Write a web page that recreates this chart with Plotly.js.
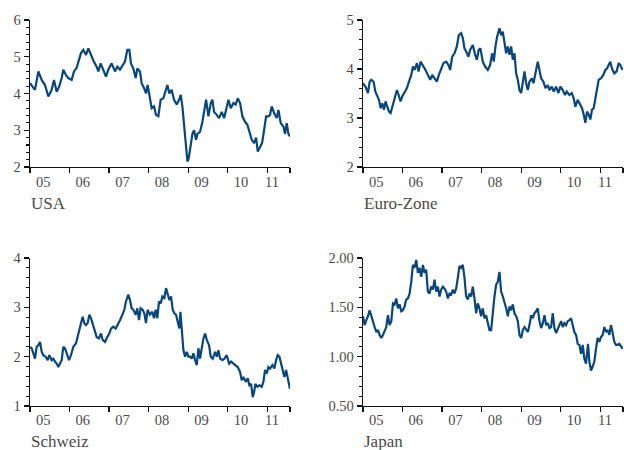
<!DOCTYPE html>
<html><head><meta charset="utf-8">
<script src="https://cdn.plot.ly/plotly-3.0.1.min.js"></script>
<style>html,body{margin:0;padding:0;background:#fff}#chart{width:624px;height:450px}</style>
</head><body><div id="chart"></div>
<script>
// ---- data ----
const yearStarts = [2005, 2006, 2007, 2008, 2009, 2010, 2011];
const tickLabels = ['05', '06', '07', '08', '09', '10', '11'];
const panelNames = ['USA', 'Euro-Zone', 'Schweiz', 'Japan'];
const seriesEnd = 2011.575;

const usaT = [2005.000,2005.084,2005.126,2005.211,2005.295,2005.379,2005.464,2005.548,2005.607,2005.675,2005.742,2005.801,2005.843,2005.911,2005.970,
2006.054,2006.113,2006.180,2006.239,2006.290,2006.349,2006.417,2006.476,2006.535,2006.602,2006.686,2006.729,2006.788,2006.855,2006.922,2006.981,
2007.066,2007.150,2007.209,2007.277,2007.344,2007.403,2007.462,2007.513,2007.555,2007.614,2007.673,2007.715,2007.782,2007.825,2007.884,2007.934,2007.976,
2008.035,2008.078,2008.137,2008.187,2008.246,2008.305,2008.373,2008.432,2008.474,2008.524,2008.583,2008.642,2008.710,2008.769,2008.811,2008.853,2008.895,2008.946,2008.980,
2009.013,2009.064,2009.106,2009.148,2009.199,2009.233,2009.300,2009.359,2009.410,2009.452,2009.511,2009.570,2009.612,2009.654,2009.722,2009.781,2009.848,2009.907,2009.958,
2010.017,2010.076,2010.143,2010.202,2010.253,2010.312,2010.371,2010.438,2010.497,2010.548,2010.607,2010.666,2010.717,2010.759,2010.818,2010.868,2010.919,2010.970,
2011.029,2011.071,2011.113,2011.172,2011.239,2011.282,2011.341,2011.408,2011.450,2011.492,2011.535,2011.574];
const usaV = [4.28,4.15,4.1,4.6,4.37,4.23,3.92,4.1,4.37,4.05,4.2,4.42,4.65,4.5,4.42,
4.37,4.6,4.7,4.9,5.1,5.19,5.05,5.23,5.05,4.9,4.73,4.6,4.82,4.65,4.46,4.65,
4.82,4.6,4.73,4.65,4.78,4.87,5.19,5.19,4.82,4.68,4.42,4.68,4.6,4.28,4.15,4.0,4.23,
3.83,3.6,3.65,3.42,3.38,3.83,3.87,4.05,4.23,4.0,4.1,3.83,3.7,3.83,3.96,3.65,3.1,2.55,2.15,
2.24,2.55,2.9,3.0,2.74,2.9,2.96,3.23,3.55,3.83,3.38,3.74,3.83,3.5,3.42,3.33,3.5,3.33,3.55,
3.83,3.6,3.74,3.7,3.87,3.74,3.38,3.23,3.15,2.96,2.74,2.65,2.8,2.42,2.55,2.65,3.0,3.38,
3.38,3.42,3.65,3.47,3.33,3.55,3.19,3.1,2.9,3.19,2.9,2.83];

const euroT = [2005.000,2005.067,2005.126,2005.168,2005.210,2005.269,2005.311,2005.354,2005.404,2005.446,2005.488,2005.530,2005.572,2005.614,2005.657,2005.699,2005.741,2005.800,2005.859,2005.901,2005.951,2005.993,
2006.052,2006.111,2006.162,2006.221,2006.263,2006.305,2006.364,2006.406,2006.456,2006.515,2006.582,2006.641,2006.700,2006.751,2006.810,2006.869,2006.919,2006.978,
2007.037,2007.104,2007.163,2007.205,2007.256,2007.315,2007.374,2007.424,2007.483,2007.525,2007.567,2007.609,2007.668,2007.710,2007.778,2007.837,2007.879,2007.929,2007.971,
2008.030,2008.089,2008.157,2008.215,2008.266,2008.308,2008.350,2008.392,2008.451,2008.493,2008.535,2008.577,2008.620,2008.662,2008.704,2008.746,2008.788,2008.830,2008.872,2008.914,2008.956,2008.998,
2009.040,2009.083,2009.125,2009.167,2009.209,2009.268,2009.310,2009.377,2009.419,2009.461,2009.503,2009.562,2009.613,2009.672,2009.714,2009.773,2009.823,2009.882,2009.941,2009.992,
2010.051,2010.109,2010.152,2010.219,2010.278,2010.328,2010.370,2010.429,2010.488,2010.539,2010.581,2010.623,2010.665,2010.707,2010.749,2010.791,2010.833,2010.875,2010.918,2010.960,
2011.019,2011.077,2011.128,2011.170,2011.212,2011.254,2011.296,2011.355,2011.414,2011.465,2011.507,2011.566];
const euroV = [3.71,3.63,3.51,3.74,3.78,3.74,3.54,3.44,3.37,3.2,3.3,3.17,3.34,3.23,3.13,3.1,3.23,3.37,3.57,3.47,3.34,3.44,
3.54,3.61,3.74,3.88,4.05,3.98,4.12,3.95,4.15,4.08,3.98,3.88,3.78,3.88,3.81,3.74,3.88,4.01,
4.12,4.15,4.08,3.98,4.25,4.32,4.46,4.69,4.73,4.63,4.42,4.36,4.25,4.39,4.49,4.29,4.19,4.39,4.42,
4.15,4.05,3.98,4.08,4.32,4.15,4.46,4.66,4.83,4.69,4.76,4.52,4.32,4.46,4.29,4.46,4.19,4.32,3.91,3.78,3.57,3.51,
3.71,3.95,3.71,3.57,3.74,3.81,3.71,3.95,4.15,3.98,3.81,3.74,3.61,3.67,3.57,3.64,3.54,3.64,3.51,3.64,
3.57,3.47,3.54,3.47,3.51,3.4,3.23,3.37,3.27,3.2,3.07,2.9,3.13,3.07,2.97,3.17,3.2,3.37,3.57,3.78,
3.81,3.88,3.98,4.01,4.08,4.15,4.01,3.91,3.95,4.12,4.08,3.98];

const chT = [2005.000,2005.042,2005.084,2005.126,2005.169,2005.211,2005.253,2005.295,2005.337,2005.396,2005.447,2005.489,2005.548,2005.590,2005.632,2005.675,2005.717,2005.759,2005.801,2005.843,2005.885,2005.927,2005.987,
2006.037,2006.096,2006.164,2006.223,2006.282,2006.332,2006.374,2006.417,2006.459,2006.501,2006.543,2006.585,2006.644,2006.686,2006.745,2006.796,2006.838,2006.897,2006.956,
2007.007,2007.049,2007.108,2007.167,2007.218,2007.277,2007.336,2007.386,2007.428,2007.487,2007.530,2007.572,2007.614,2007.673,2007.715,2007.757,2007.799,2007.850,2007.892,2007.934,2007.976,
2008.035,2008.094,2008.137,2008.179,2008.221,2008.263,2008.305,2008.347,2008.398,2008.440,2008.482,2008.524,2008.567,2008.609,2008.651,2008.693,2008.735,2008.777,2008.803,2008.836,2008.879,2008.921,2008.963,
2009.005,2009.047,2009.089,2009.132,2009.174,2009.216,2009.258,2009.300,2009.342,2009.385,2009.427,2009.469,2009.528,2009.570,2009.621,2009.680,2009.722,2009.764,2009.806,2009.865,2009.916,2009.975,
2010.034,2010.084,2010.143,2010.202,2010.253,2010.312,2010.354,2010.396,2010.455,2010.506,2010.548,2010.590,2010.632,2010.666,2010.700,2010.750,2010.801,2010.860,2010.902,2010.944,2010.987,
2011.029,2011.071,2011.130,2011.180,2011.223,2011.265,2011.307,2011.349,2011.391,2011.433,2011.476,2011.518,2011.545,2011.574];
const chV = [2.2,2.17,2.07,1.96,2.2,2.23,2.3,2.1,2.03,2.0,1.93,2.03,1.93,1.96,1.9,1.86,1.79,1.86,1.93,2.2,2.17,2.07,1.93,
2.03,2.2,2.27,2.44,2.61,2.81,2.68,2.64,2.68,2.85,2.78,2.68,2.51,2.4,2.37,2.47,2.34,2.3,2.4,
2.47,2.57,2.61,2.57,2.64,2.74,2.85,2.95,3.12,3.26,3.15,2.98,2.95,2.85,2.98,2.74,2.98,2.95,2.88,2.68,2.95,
2.85,2.91,2.78,2.95,2.78,3.12,3.08,3.22,3.19,3.39,3.25,3.15,3.22,2.95,2.88,2.85,2.71,2.57,2.91,2.61,2.13,2.0,2.1,
2.0,2.0,1.96,2.07,1.93,1.83,2.17,1.96,2.17,2.37,2.47,2.34,2.23,2.0,1.96,2.1,2.0,2.13,1.96,1.93,1.96,2.03,
1.86,1.9,1.86,1.83,1.79,1.69,1.52,1.59,1.49,1.56,1.42,1.45,1.18,1.28,1.45,1.39,1.42,1.39,1.49,1.73,1.66,
1.79,1.76,1.83,1.76,1.93,2.03,2.0,1.86,1.76,1.59,1.73,1.56,1.49,1.35];

const jpT = [2005.000,2005.042,2005.084,2005.126,2005.168,2005.210,2005.253,2005.295,2005.337,2005.379,2005.421,2005.463,2005.505,2005.547,2005.589,2005.631,2005.673,2005.716,2005.758,2005.800,2005.842,2005.884,2005.926,2005.968,
2006.010,2006.052,2006.094,2006.136,2006.179,2006.221,2006.263,2006.305,2006.347,2006.389,2006.431,2006.473,2006.515,2006.557,2006.599,2006.641,2006.684,2006.726,2006.768,2006.810,2006.852,2006.894,2006.936,2006.978,
2007.020,2007.062,2007.104,2007.147,2007.189,2007.231,2007.273,2007.315,2007.357,2007.399,2007.441,2007.483,2007.525,2007.567,2007.610,2007.652,2007.694,2007.736,2007.778,2007.820,2007.862,2007.904,2007.946,2007.988,
2008.030,2008.073,2008.115,2008.157,2008.199,2008.241,2008.283,2008.325,2008.367,2008.409,2008.451,2008.493,2008.536,2008.578,2008.620,2008.662,2008.704,2008.746,2008.788,2008.830,2008.872,2008.914,2008.956,2008.999,
2009.041,2009.083,2009.125,2009.167,2009.209,2009.251,2009.293,2009.335,2009.377,2009.419,2009.462,2009.504,2009.546,2009.588,2009.630,2009.672,2009.714,2009.756,2009.798,2009.840,2009.882,2009.925,2009.967,
2010.009,2010.051,2010.093,2010.135,2010.177,2010.219,2010.261,2010.303,2010.345,2010.388,2010.430,2010.472,2010.514,2010.556,2010.598,2010.640,2010.665,2010.690,2010.724,2010.766,2010.808,2010.850,2010.892,2010.934,2010.976,
2011.018,2011.061,2011.103,2011.145,2011.187,2011.229,2011.271,2011.313,2011.355,2011.397,2011.439,2011.481,2011.524,2011.566];
const jpV = [1.41,1.32,1.37,1.41,1.47,1.41,1.34,1.3,1.25,1.27,1.22,1.19,1.22,1.27,1.3,1.42,1.32,1.36,1.54,1.53,1.59,1.49,1.53,1.46,
1.47,1.51,1.58,1.59,1.64,1.76,1.93,1.9,1.98,1.85,1.9,1.81,1.93,1.85,1.88,1.66,1.64,1.71,1.68,1.78,1.66,1.71,1.61,1.68,
1.71,1.69,1.66,1.59,1.64,1.63,1.68,1.64,1.69,1.8,1.92,1.9,1.93,1.8,1.61,1.58,1.64,1.61,1.71,1.59,1.44,1.54,1.49,1.41,
1.49,1.39,1.42,1.34,1.27,1.27,1.46,1.61,1.73,1.76,1.86,1.66,1.61,1.56,1.49,1.41,1.51,1.47,1.53,1.44,1.41,1.36,1.22,1.19,
1.27,1.3,1.27,1.25,1.32,1.42,1.39,1.44,1.46,1.49,1.36,1.29,1.34,1.42,1.32,1.34,1.29,1.3,1.44,1.29,1.24,1.29,1.32,
1.36,1.3,1.34,1.32,1.36,1.37,1.39,1.3,1.25,1.22,1.13,1.12,1.03,1.12,0.98,0.93,1.08,1.13,0.95,0.86,0.9,0.95,1.08,1.19,1.15,
1.2,1.22,1.3,1.25,1.27,1.22,1.32,1.24,1.15,1.12,1.12,1.13,1.1,1.08];

// ---- helpers ----
function toDate(t) {
  const y = Math.floor(t);
  const a = Date.UTC(y, 0, 1), b = Date.UTC(y + 1, 0, 1);
  return new Date(a + (t - y) * (b - a)).toISOString().slice(0, 19).replace('T', ' ');
}
const W = 624, H = 450;
const lineColor = '#08467c';
const textColor = '#4a4a4a';
const fontFam = 'Liberation Serif, Times New Roman, serif';

// label placement inside each year (the last, partial year label sits nearer its tick)
const labelShift = [0.337, 0.337, 0.337, 0.337, 0.337, 0.337, 0.12];
const labelDates = yearStarts.map((y, i) => toDate(y + labelShift[i]));
const minorDates = yearStarts.map(y => toDate(y)).concat([toDate(seriesEnd - 0.001)]);

function xAxis(domain, anchor, lblGap) {
  return {
    type: 'date', domain: domain, anchor: anchor,
    range: [toDate(2005), toDate(seriesEnd)],
    showline: true, linecolor: '#111', linewidth: 1.3,
    showgrid: false, zeroline: false,
    ticks: 'outside', ticklen: lblGap, tickcolor: 'rgba(0,0,0,0)',
    tickmode: 'array', tickvals: labelDates, ticktext: tickLabels,
    tickfont: { family: fontFam, size: 14.5, color: textColor },
    minor: { tickmode: 'array', tickvals: minorDates, ticks: 'outside', ticklen: 5, tickcolor: '#111', tickwidth: 1.2, showgrid: false },
    fixedrange: true
  };
}
function yAxis(domain, anchor, range, dtick, minorDtick, fmt) {
  return {
    domain: domain, anchor: anchor, range: range,
    showline: true, linecolor: '#111', linewidth: 1.3,
    showgrid: false, zeroline: false,
    ticks: 'outside', ticklen: 5, tickcolor: '#111', tickwidth: 1.2,
    tickmode: 'linear', tick0: range[0], dtick: dtick, tickformat: fmt,
    tickfont: { family: fontFam, size: 14.5, color: textColor },
    minor: { dtick: minorDtick, ticks: 'outside', ticklen: 3, tickcolor: '#111', tickwidth: 1.1, showgrid: false },
    fixedrange: true
  };
}

const xL = [30 / W, 290 / W], xR = [363 / W, 623 / W];
const yT = [1 - 167 / H, 1 - 20 / H], yB = [1 - 406 / H, 1 - 258 / H];

function trace(t, v, xa, ya) {
  return { x: t.map(toDate), y: v, xaxis: xa, yaxis: ya, type: 'scatter', mode: 'lines',
    line: { color: lineColor, width: 2.2 }, hoverinfo: 'skip' };
}

const data = [
  trace(usaT, usaV, 'x', 'y'),
  trace(euroT, euroV, 'x2', 'y2'),
  trace(chT, chV, 'x3', 'y3'),
  trace(jpT, jpV, 'x4', 'y4')
];

function label(text, xPx, yPx) {
  return { text: text, xref: 'paper', yref: 'paper', x: xPx / W, y: 1 - yPx / H,
    xanchor: 'left', yanchor: 'middle', showarrow: false,
    font: { family: fontFam, size: 17, color: textColor } };
}

const layout = {
  width: W, height: H, margin: { l: 0, r: 0, t: 0, b: 0 },
  paper_bgcolor: '#fff', plot_bgcolor: '#fff', showlegend: false,
  xaxis: xAxis(xL, 'y', 1), yaxis: yAxis(yT, 'x', [2, 6], 1, 0.2, 'd'),
  xaxis2: xAxis(xR, 'y2', 1), yaxis2: yAxis(yT, 'x2', [2, 5], 1, 0.2, 'd'),
  xaxis3: xAxis(xL, 'y3', 0), yaxis3: yAxis(yB, 'x3', [1, 4], 1, 0.2, 'd'),
  xaxis4: xAxis(xR, 'y4', 0), yaxis4: yAxis(yB, 'x4', [0.5, 2], 0.5, 0.1, '.2f'),
  annotations: [
    label(panelNames[0], 29, 203),
    label(panelNames[1], 362, 203),
    label(panelNames[2], 29, 441),
    label(panelNames[3], 362, 441)
  ]
};

Plotly.newPlot('chart', data, layout, { staticPlot: true, displayModeBar: false });
</script></body></html>
